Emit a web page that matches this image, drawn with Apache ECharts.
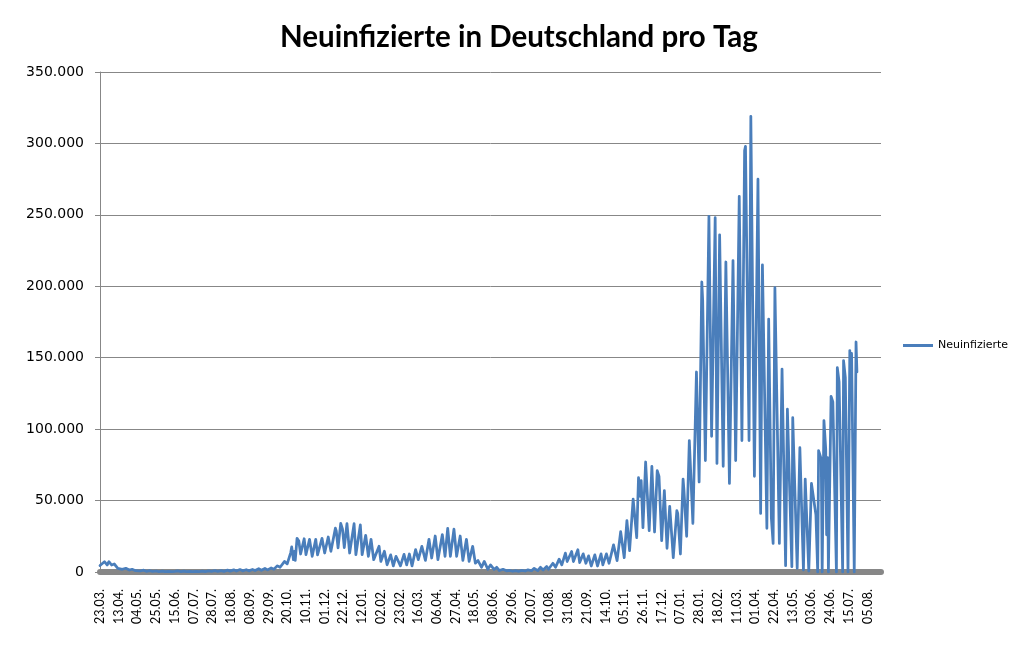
<!DOCTYPE html>
<html>
<head>
<meta charset="utf-8">
<script src="https://cdn.jsdelivr.net/npm/echarts@6/dist/echarts.min.js"></script>
<style>
html,body{margin:0;padding:0;background:#ffffff;}
#chart{width:1017px;height:662px;}
</style>
</head>
<body>
<div id="chart"></div>
<script>
// Tick labels every 21 rows (rows = reporting days since 23.03.2020)
const tickLabels = ['23.03.','13.04.','04.05.','25.05.','15.06.','07.07.','28.07.','18.08.','08.09.','29.09.',
  '20.10.','10.11.','01.12.','22.12.','12.01.','02.02.','23.02.','16.03.','06.04.','27.04.',
  '18.05.','08.06.','29.06.','20.07.','10.08.','31.08.','21.09.','14.10.','05.11.','26.11.',
  '17.12.','07.01.','28.01.','18.02.','11.03.','01.04.','22.04.','13.05.','03.06.','24.06.',
  '15.07.','05.08.'];
const tickStep = 21;
const rowCount = 876;

// [row, new infections] turning points
const cases2020 = [[0,4500],[1,4900],[5,7200],[8,4900],[10,7200],[13,4900],[16,5600],[20,2600],[22,3700],[25,1900],
  [29,2600],[33,1400],[36,1900],[40,900],[42,1400],[45,700],[49,1300],[52,500],[56,900],[59,400],
  [63,700],[66,300],[70,600],[73,200],[77,500],[80,250],[84,500],[87,800],[89,600],[91,300],
  [94,600],[97,300],[101,500],[104,250],[108,500],[111,250],[115,600],[118,300],[122,800],[125,400],
  [129,900],[132,500],[136,1000],[139,450],[143,1300],[146,600],[150,1500],[153,700],[157,1700],[160,800],
  [164,1600],[167,800],[171,1800],[174,1000],[178,2300],[181,1200],[185,2500],[188,1500],[192,2800],[195,2000],
  [199,4300],[202,3300],[207,7400],[210,5700],[214,13800],[215,17600],[217,8600],[218,14500],[219,8100],[221,23600],
  [223,21700],[225,12600],[229,23300],[231,12100],[235,22900],[238,11000],[242,22900],[244,12000],[249,23600],[252,13300],
  [256,24500],[259,14500],[264,30700],[265,28800],[267,16900],[270,34000],[272,30000],[274,17000],[277,33800],[280,13300]];
const cases2021 = [[285,33800],[287,12100],[292,33000],[294,12100],[298,25700],[301,11000],[304,22900],[307,8600],[313,18000],[315,7400],
  [319,14500],[322,5000],[326,12000],[329,4300],[332,11000],[337,4300],[341,12300],[344,5000],[347,12600],[350,4300],
  [354,15700],[357,8600],[361,18000],[365,8100],[369,22900],[372,9800],[376,25200],[379,8600],[384,26200],[387,11000],
  [390,30500],[393,11000],[397,30000],[400,11000],[404,25200],[407,8100],[411,22900],[414,7400],[418,18000],[421,6200],
  [424,8000],[428,3300],[431,7400],[435,1900],[438,5000],[442,1900],[445,3300],[448,1000],[452,1900],[456,800],
  [459,1100],[463,500],[466,1000],[470,500],[473,1200],[477,700],[480,1500],[484,900],[487,2600],[491,1000],
  [494,3300],[497,1400],[501,3800],[503,1900],[508,6100],[511,3300],[515,9000],[518,5000],[522,13200],[524,7300],
  [529,14400],[531,7300],[536,15600],[538,6600],[542,12700],[545,6100],[548,11300],[551,4200],[555,12000],[558,4200],
  [562,12700],[564,5000],[568,12700],[571,6100],[576,19000],[578,20000],[580,8000],[584,28300],[588,10000],[591,36000],
  [594,15000],[598,51000],[602,24000],[604,66000],[606,53000],[607,64000],[609,31000],[612,77000],[616,29000],[619,74000],
  [622,28000],[625,71000],[627,67000],[630,22000],[633,57000],[636,16600],[639,46000],[641,44600],[643,10000],[647,43000],
  [648,41000]];
const cases2022 = [[651,12600],[654,65000],[655,57000],[658,25000],[661,92000],[665,34000],[669,140000],[672,63000],[675,203000],[676,190000],
  [679,78000],[683,249000],[686,95000],[690,248000],[692,76000],[695,236000],[699,74000],[702,217000],[706,62000],[710,218000],
  [713,78000],[717,263000],[720,92000],[723,295000],[724,298000],[728,92000],[730,319000],[734,67000],[738,275000],[741,41000],
  [743,215000],[748,30600],[750,177000],[753,38000],[755,20000],[757,199000],[762,20000],[765,142000],[769,4400],[771,114000],
  [776,3700],[777,108000],[782,2600],[785,87000],[789,1400],[791,65000],[795,700],[798,62000],[803,40000],[805,0],
  [806,85000],[809,79000],[810,0],[812,106000],[814,86000],[815,26000],[816,80000],[817,0],[820,123000],[822,119000],
  [826,0],[827,143000],[829,133000],[833,0],[834,148000],[836,136000],[839,0],[841,155000],[842,126000],[843,153000],
  [846,0],[848,161000],[849,140000]];

const yTicks = [0, 50000, 100000, 150000, 200000, 250000, 300000, 350000];
const seriesName = 'Neuinfizierte';
const titleText = 'Neuinfizierte in Deutschland pro Tag';

const allCases = cases2020.concat(cases2021, cases2022);
const fmtDE = v => String(v).replace(/\B(?=(\d{3})+(?!\d))/g, '.');

const chart = echarts.init(document.getElementById('chart'), null, {renderer: 'canvas'});
chart.setOption({
  animation: false,
  backgroundColor: '#ffffff',
  title: {
    text: titleText,
    left: 514,
    top: 17,
    textAlign: 'center',
    textStyle: {fontFamily: 'Lato', fontWeight: 'bold', fontSize: 29.5, color: '#000000'}
  },
  legend: {
    data: [{name: seriesName, icon: 'rect'}],
    orient: 'vertical',
    left: 903,
    top: 340,
    padding: 0,
    itemWidth: 30,
    itemHeight: 3,
    textStyle: {fontFamily: 'DejaVu Sans', fontSize: 11, color: '#000000'}
  },
  grid: {left: 100, right: 136, top: 72, bottom: 90},
  xAxis: {
    type: 'value',
    min: 0,
    max: rowCount,
    interval: tickStep,
    offset: 3,
    axisLine: {show: true, lineStyle: {color: '#878787', width: 6}},
    axisTick: {show: false},
    splitLine: {show: false},
    axisLabel: {
      rotate: 90,
      margin: 14,
      fontFamily: 'Lato',
      fontSize: 12.5,
      color: '#000000',
      showMaxLabel: false,
      formatter: v => {
        const i = v / tickStep;
        return Number.isInteger(i) && tickLabels[i] ? tickLabels[i] : '';
      }
    }
  },
  yAxis: {
    type: 'value',
    min: yTicks[0],
    max: yTicks[yTicks.length - 1],
    interval: yTicks[1] - yTicks[0],
    axisLine: {show: true, lineStyle: {color: '#878787', width: 1}},
    axisTick: {show: true, length: 5, lineStyle: {color: '#878787'}},
    splitLine: {show: true, lineStyle: {color: '#878787', width: 1}},
    axisLabel: {
      margin: 16,
      fontFamily: 'DejaVu Sans',
      fontSize: 14,
      color: '#000000',
      formatter: v => fmtDE(v)
    }
  },
  series: [{
    name: seriesName,
    type: 'line',
    data: allCases,
    showSymbol: false,
    symbol: 'none',
    color: '#4a7ebb',
    lineStyle: {color: '#4a7ebb', width: 2.75, join: 'round', cap: 'round'},
    z: 3
  }]
});
</script>
</body>
</html>
